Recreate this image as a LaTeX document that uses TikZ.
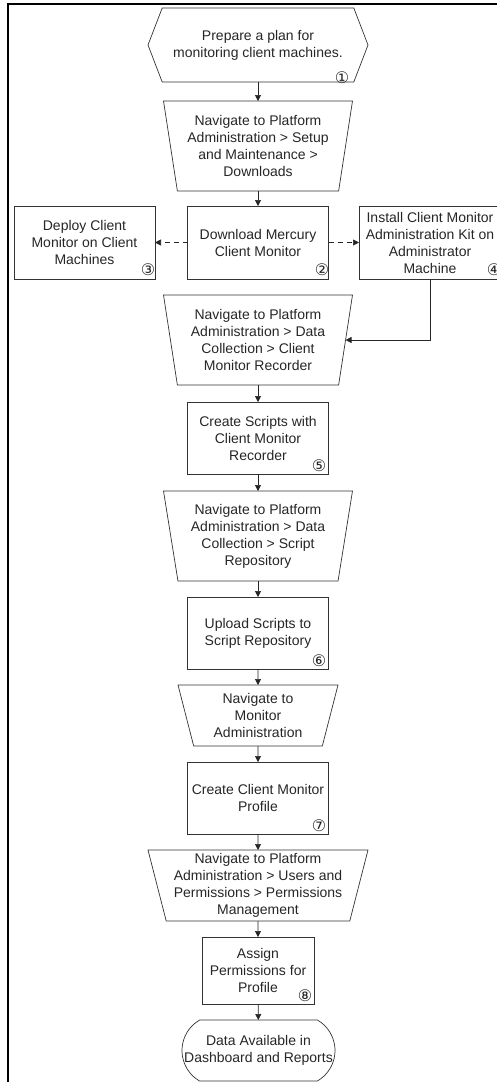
\documentclass[tikz,border=0pt]{standalone}
\usepackage{fontspec}
\setmainfont{Liberation Sans}
\newfontfamily\numfont{DejaVu Sans}
\usetikzlibrary{shapes.geometric,shapes.misc,shapes.symbols,arrows.meta}

\begin{document}
\begin{tikzpicture}[x=1pt,y=-1pt,
                    every node/.style={align=center,inner sep=2pt,outer sep=0pt,text=black!85,
                                       font=\fontsize{14}{17}\selectfont},
                    shp/.style={draw=black!80,line width=0.7pt},
                    box/.style={shp,rectangle,minimum width=141pt,minimum height=72pt},
                    nav/.style={shp,trapezium,shape border rotate=180,trapezium stretches body,
                                minimum width=189pt,minimum height=90pt,trapezium angle=78},
                    start/.style={shp,signal,signal to=east and west,signal pointer angle=138,
                                  minimum width=220pt,minimum height=74pt},
                    term/.style={shp,rounded rectangle,rounded rectangle arc length=120,
                                 minimum width=157pt,minimum height=61pt},
                    num/.style={inner sep=0pt,font=\numfont\fontsize{16}{16}\selectfont},
                    arr/.style={draw=black!85,line width=0.7pt,-{Triangle[length=6pt,width=6pt]}},
                    dsh/.style={arr,dash pattern=on 5pt off 4pt}]
  \useasboundingbox (0,0) rectangle (497,1082);
  \draw[line width=2pt] (8,1082) -- (8,4) -- (497,4);

  \node[start] (plan) at (258,45)    {Prepare a plan for\\monitoring client machines.};
  \node[nav]   (nav1) at (258,146)   {Navigate to Platform\\Administration > Setup\\and Maintenance >\\Downloads};
  \node[box,minimum height=73pt] (dl)     at (258,242.5) {Download Mercury\\Client Monitor};
  \node[box,minimum height=73pt] (deploy) at (84.5,242.5) {Deploy Client\\Monitor on Client\\Machines};
  \node[box,minimum height=73pt,minimum width=142pt] (inst) at (430,242.5)
       {Install Client Monitor\\Administration Kit on\\Administrator\\Machine};
  \node[nav]   (nav2) at (258,340)   {Navigate to Platform\\Administration > Data\\Collection > Client\\Monitor Recorder};
  \node[box]   (rec)  at (258,438)   {Create Scripts with\\Client Monitor\\Recorder};
  \node[nav]   (nav3) at (258,536)   {Navigate to Platform\\Administration > Data\\Collection > Script\\Repository};
  \node[box]   (up)   at (258,633)   {Upload Scripts to\\Script Repository};
  \node[nav,minimum width=160pt,minimum height=61pt,trapezium angle=72] (nav4) at (258,715.5)
       {Navigate to\\Monitor\\Administration};
  \node[box]   (prof) at (258,798)   {Create Client Monitor\\Profile};
  \node[nav,minimum width=220pt,minimum height=71pt,trapezium angle=75] (nav5) at (258,885.5)
       {Navigate to Platform\\Administration > Users and\\Permissions > Permissions\\Management};
  \node[box,minimum width=112pt,minimum height=67pt] (perm) at (258,970.5)
       {Assign\\Permissions for\\Profile};
  \node[term]  (done) at (258.5,1050.5) {};
  \node        (donetxt) at (done.center) {Data Available in\\Dashboard and Reports};

  % step numbers
  \node[num] (n1) at (342,78)  {①};
  \node[num] (n2) at (322,270) {②};
  \node[num] (n3) at (148,270) {③};
  \node[num] (n4) at (494,270) {④};
  \node[num] (n5) at (319,466) {⑤};
  \node[num] (n6) at (319,661) {⑥};
  \node[num] (n7) at (319,826) {⑦};
  \node[num] (n8) at (305,996) {⑧};

  \draw[arr] (plan) -- (nav1);
  \draw[arr] (nav1) -- (dl);
  \draw[dsh] (dl) -- (deploy);
  \draw[dsh] (dl) -- (inst);
  \draw[arr] (inst) |- (nav2);
  \draw[arr] (nav2) -- (rec);
  \draw[arr] (rec) -- (nav3);
  \draw[arr] (nav3) -- (up);
  \draw[arr] (up) -- (nav4);
  \draw[arr] (nav4) -- (prof);
  \draw[arr] (prof) -- (nav5);
  \draw[arr] (nav5) -- (perm);
  \draw[arr] (perm) -- (done);
\end{tikzpicture}
\end{document}
